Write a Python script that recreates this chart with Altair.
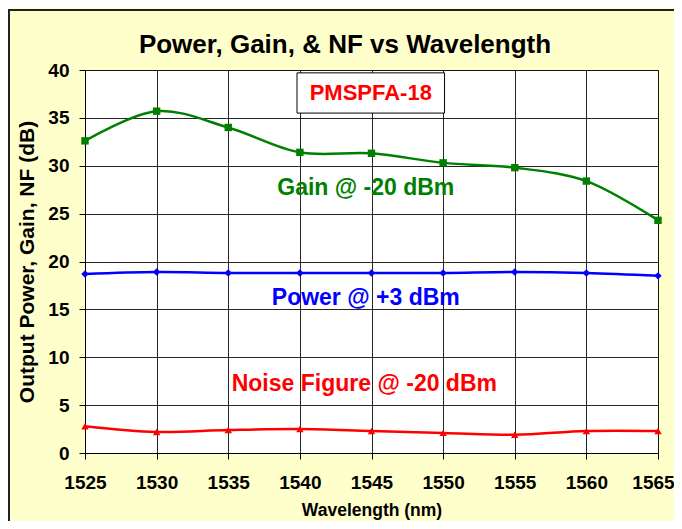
import altair as alt
import pandas as pd

wavelength = [1525, 1530, 1535, 1540, 1545, 1550, 1555, 1560, 1565]
gain = [32.6, 35.7, 34.0, 31.4, 31.3, 30.3, 29.8, 28.4, 24.3]
power = [18.7, 18.9, 18.8, 18.8, 18.8, 18.8, 18.9, 18.8, 18.5]
noise_figure = [2.8, 2.2, 2.4, 2.5, 2.3, 2.1, 1.9, 2.3, 2.3]

series_names = ["Gain", "Power", "Noise Figure"]
series_colors = ["#008000", "#0000FF", "#FF0000"]
series_shapes = ["square", "diamond", "triangle-up"]

label_texts = ["Gain @ -20 dBm", "Power @ +3 dBm", "Noise Figure @ -20 dBm"]
label_x = [1544.6, 1544.6, 1544.5]
label_y = [27.7, 16.2, 7.2]

model_name = "PMSPFA-18"
chart_title = "Power, Gain, & NF vs Wavelength"

FONT = "Liberation Sans"

rows = []
for name, vals in zip(series_names, [gain, power, noise_figure]):
    for w, v in zip(wavelength, vals):
        rows.append({"wavelength": w, "value": v, "series": name})
df = pd.DataFrame(rows)

labels_df = pd.DataFrame({"x": label_x, "y": label_y, "text": label_texts, "series": series_names})

x_scale = alt.Scale(domain=[1525, 1565], nice=False, zero=False)
y_scale = alt.Scale(domain=[0, 40], nice=False)
color_scale = alt.Scale(domain=series_names, range=series_colors)
shape_scale = alt.Scale(domain=series_names, range=series_shapes)

x_enc = alt.X("wavelength:Q", scale=x_scale,
              axis=alt.Axis(title="Wavelength (nm)", values=wavelength, format="d",
                            labelFontSize=19, labelFontWeight="bold", labelFont=FONT,
                            titleFontSize=17.5, titleFontWeight="bold", titleFont=FONT,
                            labelPadding=14, titlePadding=9, tickSize=6,
                            labelOffset=alt.condition("datum.value == 1565", alt.value(-5), alt.value(0)),
                            tickColor="#000", domainColor="#000", gridColor="#000",
                            gridOpacity=0.85, labelColor="#000", titleColor="#000",
                            labelFlush=False))
y_enc = alt.Y("value:Q", scale=y_scale,
              axis=alt.Axis(title="Output Power, Gain, NF  (dB)", values=list(range(0, 41, 5)),
                            labelFontSize=19, labelFontWeight="bold", labelFont=FONT,
                            titleFontSize=21, titleFontWeight="bold", titleFont=FONT,
                            labelPadding=10, titlePadding=10, tickSize=6,
                            tickColor="#000", domainColor="#000", gridColor="#000",
                            gridOpacity=0.85, labelColor="#000", titleColor="#000"))

base = alt.Chart(df)

lines = base.mark_line(interpolate="catmull-rom", strokeWidth=2.5).encode(
    x=x_enc, y=y_enc,
    color=alt.Color("series:N", scale=color_scale, legend=None),
    detail="series:N",
)

points = base.mark_point(filled=True, size=55, opacity=1).encode(
    x="wavelength:Q", y="value:Q",
    color=alt.Color("series:N", scale=color_scale, legend=None),
    shape=alt.Shape("series:N", scale=shape_scale, legend=None),
)

labels = alt.Chart(labels_df).mark_text(fontSize=23, fontWeight="bold", font=FONT,
                                         align="center", baseline="middle").encode(
    x="x:Q", y="y:Q", text="text:N",
    color=alt.Color("series:N", scale=color_scale, legend=None),
)

box_df = pd.DataFrame({"x1": [1539.8], "x2": [1550.1], "y1": [35.5], "y2": [39.7],
                       "xc": [1544.95], "yc": [37.6], "text": [model_name]})
box = alt.Chart(box_df).mark_rect(fill="white", stroke="#000", strokeWidth=1).encode(
    x="x1:Q", x2="x2:Q", y="y1:Q", y2="y2:Q")
box_text = alt.Chart(box_df).mark_text(fontSize=22, fontWeight="bold", font=FONT,
                                        color="#FF0000", baseline="middle").encode(
    x="xc:Q", y="yc:Q", text="text:N")

frame = alt.Chart(pd.DataFrame({"a": [0]})).mark_rect(
    fill=None, stroke="#222", strokeWidth=2).encode(
    x=alt.value(-76), x2=alt.value(620), y=alt.value(-60), y2=alt.value(500))

title_mark = alt.Chart(pd.DataFrame({"t": [chart_title]})).mark_text(
    fontSize=26, fontWeight="bold", font=FONT, color="#000",
    align="center", baseline="middle").encode(
    x=alt.value(260), y=alt.value(-25), text="t:N")

chart = alt.layer(frame, lines, points, box, box_text, labels, title_mark).properties(
    width=573, height=383,
    autosize=alt.AutoSizeParams(type="none"),
    padding={"left": 77, "top": 62, "right": 16, "bottom": 68},
).configure(background="#FFFFCC").configure_view(fill="white", stroke="#808080", strokeWidth=1)

chart.save("out.html", embed_options={"renderer": "svg", "actions": False})
